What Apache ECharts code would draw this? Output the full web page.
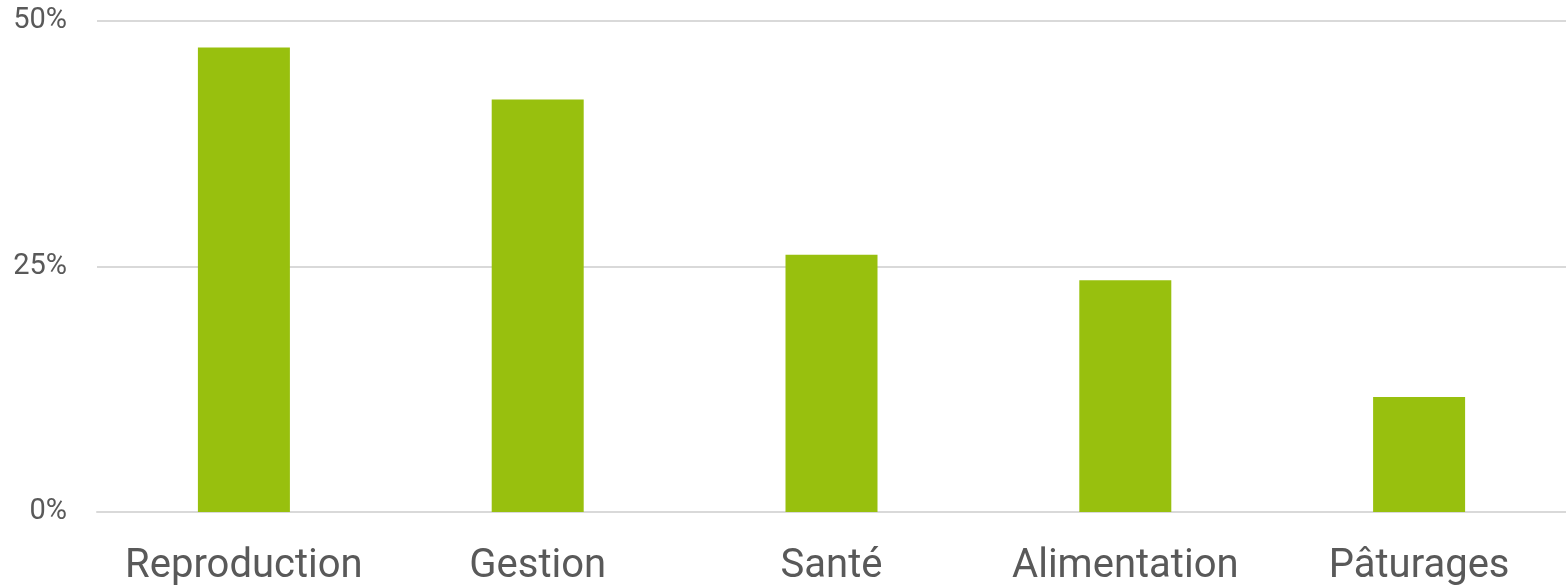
<!DOCTYPE html>
<html>
<head>
<meta charset="utf-8">
<script src="https://cdn.jsdelivr.net/npm/echarts@6/dist/echarts.min.js"></script>
<style>
  html, body { margin: 0; padding: 0; background: #fff; }
  #chart { width: 1566px; height: 588px; }
</style>
</head>
<body>
<div id="chart"></div>
<script>
// thèmes et parts (%)
var categories = ["Reproduction", "Gestion", "Santé", "Alimentation", "Pâturages"];
var values = [47.3, 42, 26.2, 23.6, 11.7];
var yTicks = [0, 25, 50];

var chart = echarts.init(document.getElementById("chart"));
chart.setOption({
  animation: false,
  grid: {
    left: 97,
    right: 0,
    top: 21,
    bottom: 76
  },
  xAxis: {
    type: "category",
    data: categories,
    axisLine: { show: true, lineStyle: { color: "#d9d9d9", width: 2 } },
    axisTick: { show: false },
    axisLabel: {
      interval: 0,
      color: "#595959",
      fontFamily: "Roboto",
      fontSize: 40,
      margin: 35
    }
  },
  yAxis: {
    type: "value",
    min: yTicks[0],
    max: yTicks[yTicks.length - 1],
    interval: 25,
    axisLine: { show: false },
    axisTick: { show: false },
    splitLine: { lineStyle: { color: "#d9d9d9", width: 2 } },
    axisLabel: {
      formatter: "{value}%",
      color: "#595959",
      fontFamily: "Roboto",
      fontSize: 29,
      margin: 30
    }
  },
  series: [{
    type: "bar",
    data: values,
    barWidth: 92,
    itemStyle: { color: "#98c00e" }
  }]
});
</script>
</body>
</html>
